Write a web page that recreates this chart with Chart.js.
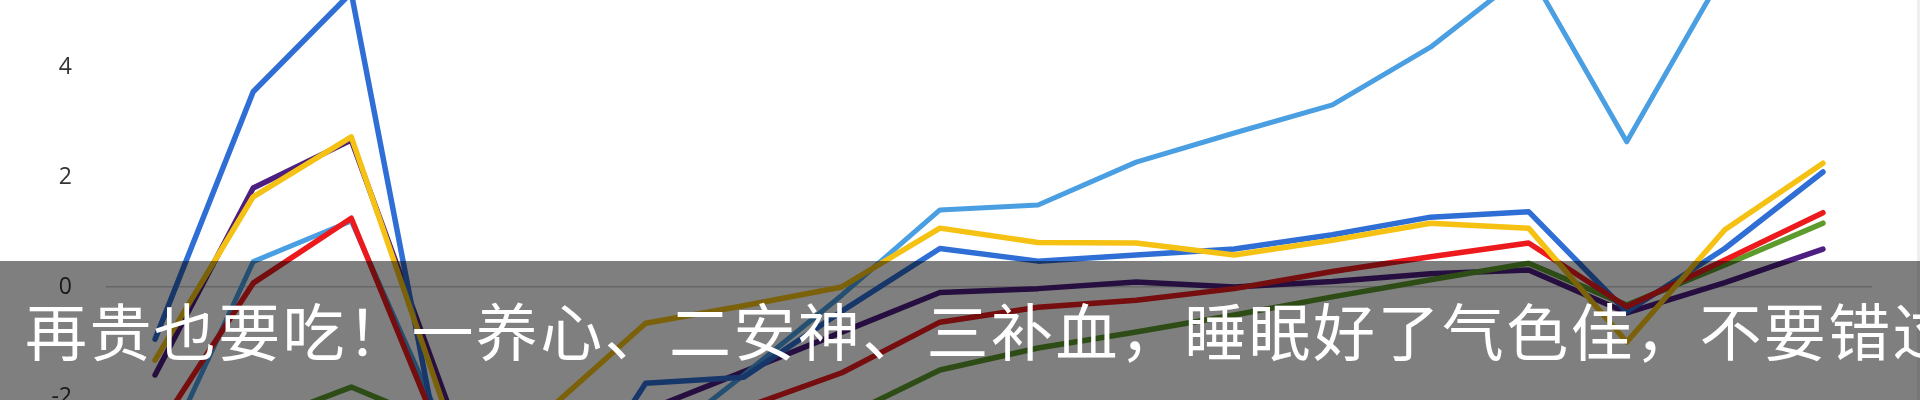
<!DOCTYPE html>
<html><head><meta charset="utf-8">
<script src="https://cdn.jsdelivr.net/npm/chart.js@4"></script>
<style>
html,body{margin:0;padding:0;background:#fff;}
#wrap{position:relative;width:1920px;height:400px;overflow:hidden;background:#fff;}
#c{position:absolute;left:0;top:0;}
#banner{position:absolute;left:0;top:261px;width:1920px;height:139px;background:rgba(0,0,0,0.5);}
#cap{position:absolute;left:25px;top:298px;font-family:"Noto Sans CJK SC";font-size:62px;line-height:62px;letter-spacing:2.4px;color:#fff;white-space:nowrap;}
#edge{position:absolute;right:0;top:0;width:3px;height:400px;background:#eeeeee;}
</style></head>
<body>
<div id="wrap">
<canvas id="c" width="1920" height="400"></canvas>
<div id="edge"></div>
<div id="banner"></div>
<div id="cap">再贵也要吃！一养心、二安神、三补血，睡眠好了气色佳，不要错过</div>
</div>
<script>
const categories = ["1","2","3","4","5","6","7","8","9","10","11","12","13","14","15","16","17","18"];
const tickValues = [-2, 0, 2, 4];
const yMin = -2.055;
const yMax = 5.218;

const lightBlue = [-3.4, 0.46, 1.2, -2.8, -3.5, -3.0, -1.6, -0.15, 1.4, 1.49, 2.27, 2.8, 3.31, 4.36, 5.75, 2.64, 5.75, 6.0];
const blue      = [-0.95, 3.55, 5.35, -3.9, -4.5, -1.75, -1.64, -0.44, 0.7, 0.47, 0.58, 0.69, 0.95, 1.27, 1.37, -0.45, 0.7, 2.09];
const yellow    = [-1.33, 1.64, 2.73, -2.45, -2.25, -0.66, -0.34, 0.0, 1.07, 0.81, 0.8, 0.58, 0.85, 1.16, 1.07, -1.0, 1.04, 2.25];
const purple    = [-1.6, 1.8, 2.67, -2.2, -2.7, -2.25, -1.54, -0.82, -0.1, -0.03, 0.09, 0.0, 0.1, 0.24, 0.31, -0.47, 0.08, 0.69];
const red       = [-2.67, 0.07, 1.25, -3.1, -3.3, -2.8, -2.2, -1.56, -0.64, -0.37, -0.24, -0.03, 0.28, 0.55, 0.8, -0.36, 0.49, 1.35];
const green     = [-3.0, -2.5, -1.82, -2.56, -2.9, -2.8, -2.6, -2.38, -1.51, -1.11, -0.82, -0.51, -0.18, 0.13, 0.43, -0.33, 0.4, 1.16];

function ds(data, color, w) {
  return { data: data, borderColor: color, borderWidth: w, pointRadius: 0, tension: 0,
           fill: false, borderCapStyle: 'round', borderJoinStyle: 'round' };
}

new Chart(document.getElementById('c'), {
  type: 'line',
  data: {
    labels: categories,
    datasets: [
      ds(yellow, '#f5c214', 5.5),
      ds(red, '#ec1a1d', 5.5),
      ds(blue, '#2f6fd5', 5.5),
      ds(lightBlue, '#4a9fe2', 5),
      ds(green, '#5d9b2c', 5.5),
      ds(purple, '#4d1f80', 5.5)
    ]
  },
  options: {
    responsive: false,
    devicePixelRatio: 1,
    animation: false,
    layout: { padding: { left: 0, right: 48, top: 0, bottom: 0 } },
    plugins: { legend: { display: false }, tooltip: { enabled: false } },
    scales: {
      x: { type: 'category', offset: true, display: false },
      y: {
        min: yMin, max: yMax,
        afterBuildTicks: s => { s.ticks = tickValues.map(v => ({ value: v })); },
        afterFit: s => { s.width = 106; s.paddingTop = 0; s.paddingBottom = 0; },
        ticks: { padding: 34, font: { family: 'Open Sans', size: 23 }, color: '#333333' },
        grid: { drawTicks: false, lineWidth: 1.5,
                color: ctx => (ctx.tick && ctx.tick.value === 0) ? '#cdcdcd' : 'rgba(0,0,0,0)' },
        border: { display: false }
      }
    }
  }
});
</script>
</body></html>
